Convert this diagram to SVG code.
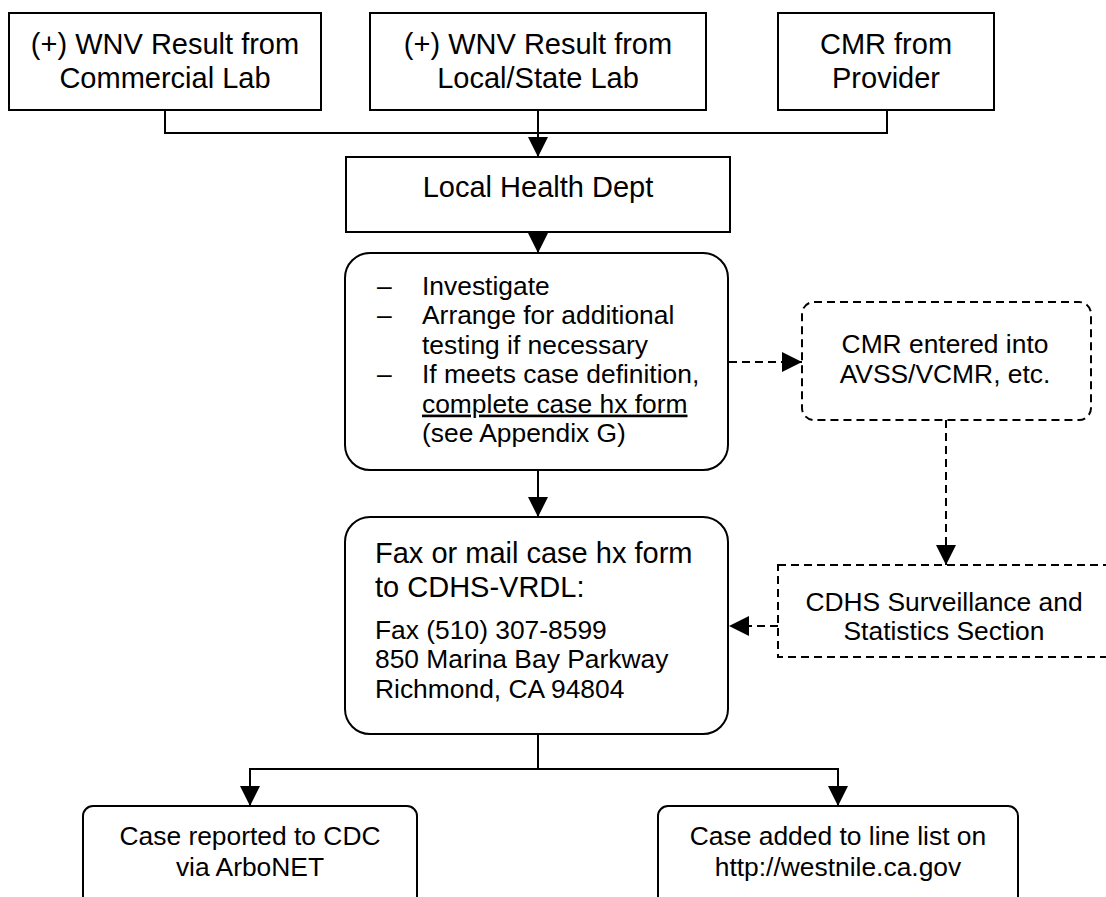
<svg xmlns="http://www.w3.org/2000/svg" width="1106" height="897" viewBox="0 0 1106 897">
<style>
.box{fill:#fff;stroke:#000;stroke-width:2}
.dbox{fill:#fff;stroke:#000;stroke-width:2;stroke-dasharray:8,5}
.ln{fill:none;stroke:#000;stroke-width:2}
.dl{fill:none;stroke:#000;stroke-width:2;stroke-dasharray:8,5}
text{font-family:"Liberation Sans",Arial,sans-serif;fill:#000}
.big{font-size:29px}
.md{font-size:26.4px}
.c{text-anchor:middle}
</style>
<defs>
<marker id="ah" viewBox="0 0 20 20" refX="20" refY="10" markerWidth="20" markerHeight="20" markerUnits="userSpaceOnUse" orient="auto">
<path d="M0,0 L20,10 L0,20 z" fill="#000" stroke="none"/>
</marker>
</defs>
<g id="connectors">
<polyline class="ln" points="165,110 165,133 887,133 887,110"/>
<line class="ln" x1="538" y1="110" x2="538" y2="157" marker-end="url(#ah)"/>
<line class="ln" x1="538" y1="232" x2="538" y2="253" marker-end="url(#ah)"/>
<line class="ln" x1="538" y1="470" x2="538" y2="517" marker-end="url(#ah)"/>
<line class="dl" x1="729" y1="362" x2="802" y2="362" marker-end="url(#ah)"/>
<line class="dl" x1="946" y1="420" x2="946" y2="565" marker-end="url(#ah)"/>
<line class="dl" x1="778" y1="626" x2="729" y2="626" marker-end="url(#ah)"/>
<polyline class="ln" points="538,734 538,769"/>
<polyline class="ln" points="250,769 838,769"/>
<line class="ln" x1="250" y1="768" x2="250" y2="806" marker-end="url(#ah)"/>
<line class="ln" x1="838" y1="768" x2="838" y2="806" marker-end="url(#ah)"/>
</g>
<g id="n-commercial">
<rect class="box" x="9" y="13" width="312" height="97"/>
<text class="big c" x="165" y="54">(+) WNV Result from</text>
<text class="big c" x="165" y="88">Commercial Lab</text>
</g>
<g id="n-localstate">
<rect class="box" x="370" y="13" width="336" height="97"/>
<text class="big c" x="538" y="54">(+) WNV Result from</text>
<text class="big c" x="538" y="88">Local/State Lab</text>
</g>
<g id="n-cmr">
<rect class="box" x="778" y="13" width="216" height="97"/>
<text class="big c" x="886" y="54">CMR from</text>
<text class="big c" x="886" y="88">Provider</text>
</g>
<g id="n-lhd">
<rect class="box" x="346" y="157" width="384" height="75"/>
<text class="big c" x="538" y="197">Local Health Dept</text>
</g>
<g id="n-investigate">
<rect class="box" x="345" y="253" width="383" height="217" rx="25" ry="25"/>
<text class="md" x="377" y="295">–</text>
<text class="md" x="422" y="295">Investigate</text>
<text class="md" x="377" y="324.4">–</text>
<text class="md" x="422" y="324.4">Arrange for additional</text>
<text class="md" x="422" y="353.8">testing if necessary</text>
<text class="md" x="377" y="383.2">–</text>
<text class="md" x="422" y="383.2">If meets case definition,</text>
<text class="md" x="422" y="412.6" text-decoration="underline">complete case hx form</text>
<text class="md" x="422" y="442">(see Appendix G)</text>
</g>
<g id="n-avss">
<rect class="dbox" x="802" y="302" width="289" height="118" rx="12" ry="12"/>
<text class="md c" x="945" y="353">CMR entered into</text>
<text class="md c" x="945" y="383">AVSS/VCMR, etc.</text>
</g>
<g id="n-cdhs">
<rect class="dbox" x="778" y="565" width="340" height="92"/>
<text class="md c" x="944" y="611">CDHS Surveillance and</text>
<text class="md c" x="944" y="640">Statistics Section</text>
</g>
<g id="n-fax">
<rect class="box" x="345" y="517" width="383" height="217" rx="25" ry="25"/>
<text class="big" x="375" y="563">Fax or mail case hx form</text>
<text class="big" x="375" y="597">to CDHS-VRDL:</text>
<text class="md" x="375" y="639">Fax (510) 307-8599</text>
<text class="md" x="375" y="668">850 Marina Bay Parkway</text>
<text class="md" x="375" y="698">Richmond, CA 94804</text>
</g>
<g id="n-cdc">
<rect class="box" x="83" y="806" width="334" height="130" rx="10" ry="10"/>
<text class="md c" x="250" y="845">Case reported to CDC</text>
<text class="md c" x="250" y="876">via ArboNET</text>
</g>
<g id="n-westnile">
<rect class="box" x="658" y="806" width="360" height="130" rx="10" ry="10"/>
<text class="md c" x="838" y="845">Case added to line list on</text>
<text class="md c" x="838" y="876">http://westnile.ca.gov</text>
</g>
</svg>
